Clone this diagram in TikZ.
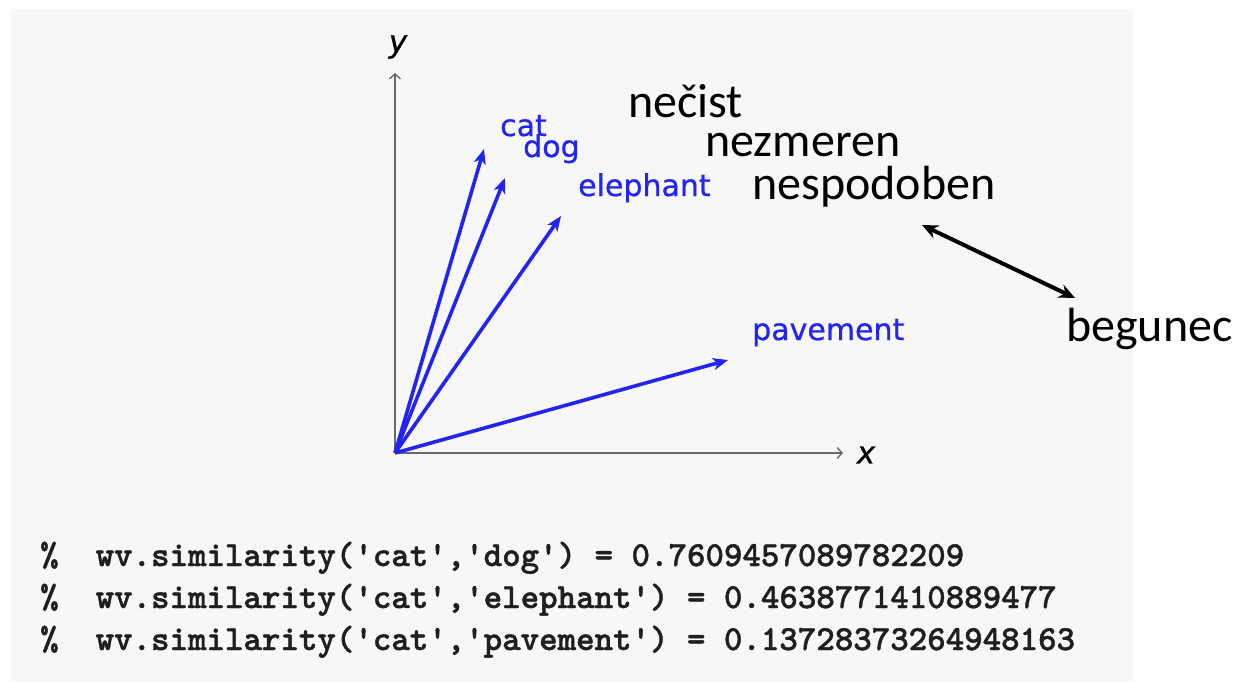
\documentclass[tikz,border=0pt]{standalone}
\usepackage{fontspec}
\newfontfamily\wordfont{Carlito}
\newfontfamily\vecfont{DejaVu Sans}[FakeBold=0.7]
\newfontfamily\codefont{lmmonolt10-bold.otf}[FakeBold=1.2]
\usetikzlibrary{arrows.meta}
\definecolor{panel}{RGB}{247,247,247}
\definecolor{vecblue}{RGB}{36,36,242}
\definecolor{axisgray}{RGB}{105,105,105}

\begin{document}
\begin{tikzpicture}[x=1pt,y=-1pt,
  vec/.style={vecblue, line width=3.6pt, -{Stealth[length=15pt,width=12pt,inset=4pt]}},
  axis/.style={axisgray, line width=1.4pt, -{Straight Barb[length=5pt,width=11pt]}},
  veclabel/.style={text=vecblue, font=\vecfont\fontsize{30}{36}\selectfont, anchor=base west, inner sep=0pt},
  axislabel/.style={font=\vecfont\itshape\fontsize{31}{36}\selectfont, inner sep=0pt},
  word/.style={font=\wordfont\fontsize{48}{58}\selectfont, anchor=base west, inner sep=0pt},
  code/.style={font=\codefont\fontsize{35.2}{40}\selectfont, anchor=base west, inner sep=0pt, text=black!88},
  link/.style={black, line width=4pt, {Stealth[length=16pt,width=14pt]}-{Stealth[length=16pt,width=14pt]}}
]
\useasboundingbox (0,0) rectangle (1243,681);
\fill[panel] (11,9) rectangle (1133,681);

% axes
\coordinate (O) at (395,453);
\coordinate (ytop) at (395,73);
\coordinate (xend) at (843,453);
\draw[axis] (O) -- (ytop);
\draw[axis] (O) -- (xend);
\node[axislabel] (ylab) at (398,47) {y};
\node[axislabel] (xlab) at (866,455) {x};

% word vectors
\coordinate (tcat) at (484,149);
\coordinate (tdog) at (505,178);
\coordinate (teleph) at (561,216);
\coordinate (tpave) at (728,360);
\draw[vec] (O) -- (tcat);
\draw[vec] (O) -- (tdog);
\draw[vec] (O) -- (teleph);
\draw[vec] (O) -- (tpave);

\node[veclabel] (cat) at (500,136) {cat};
\node[veclabel] (dog) at (523,157) {dog};
\node[veclabel] (eleph) at (578,196) {elephant};
\node[veclabel] (pave) at (752,340) {pavement};

% Slovene words
\node[word] (necist) at (628,117) {nečist};
\node[word] (nezmeren) at (705,156) {nezmeren};
\node[word] (nespodoben) at (752,199) {nespodoben};
\node[word] (begunec) at (1066,341) {begunec};
\coordinate (la) at (922,225);
\coordinate (lb) at (1075,298);
\draw[link] (la) -- (lb);

% similarity scores
\node[code] (s1) at (40,566) {\%\ \ wv.similarity(\textquotesingle cat\textquotesingle,\textquotesingle dog\textquotesingle) = 0.7609457089782209};
\node[code] (s2) at (40,608) {\%\ \ wv.similarity(\textquotesingle cat\textquotesingle,\textquotesingle elephant\textquotesingle) = 0.4638771410889477};
\node[code] (s3) at (40,650) {\%\ \ wv.similarity(\textquotesingle cat\textquotesingle,\textquotesingle pavement\textquotesingle) = 0.13728373264948163};
\end{tikzpicture}
\end{document}
